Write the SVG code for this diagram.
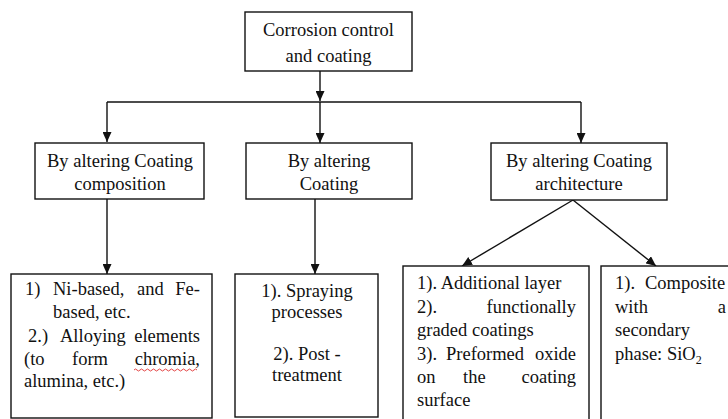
<svg xmlns="http://www.w3.org/2000/svg" width="728" height="419" viewBox="0 0 728 419">
<style>
.box{fill:#fff;stroke:#111;stroke-width:1.4}
.t{font-family:"Liberation Serif","Times New Roman",serif;font-size:18.5px;fill:#111}
.c{text-anchor:middle}
.e{text-anchor:end}
.ln{fill:none;stroke:#111;stroke-width:1.4}
</style>
<defs>
<marker id="ah" markerUnits="userSpaceOnUse" markerWidth="10" markerHeight="9" refX="10" refY="4.5" orient="auto">
<path d="M0,0 L10,4.5 L0,9 z" fill="#111"/>
</marker>
</defs>
<rect width="728" height="419" fill="#fff"/>
<g id="connectors">
<path class="ln" d="M320 71 V101" marker-end="url(#ah)"/>
<path class="ln" d="M107 102 H581"/>
<path class="ln" d="M107 102 V142" marker-end="url(#ah)"/>
<path class="ln" d="M320 102 V143" marker-end="url(#ah)"/>
<path class="ln" d="M581 102 V143" marker-end="url(#ah)"/>
<path class="ln" d="M107 199 V274" marker-end="url(#ah)"/>
<path class="ln" d="M315 199 V274" marker-end="url(#ah)"/>
<path class="ln" d="M573 200 L462 266" marker-end="url(#ah)"/>
<path class="ln" d="M573 200 L656 266" marker-end="url(#ah)"/>
</g>
<g id="root">
<rect class="box" x="245" y="12" width="167" height="59"/>
<text class="t c" x="328.5" y="36">Corrosion control</text>
<text class="t c" x="328.5" y="62">and coating</text>
</g>
<g id="composition">
<rect class="box" x="35" y="143" width="169" height="56"/>
<text class="t c" x="120" y="167">By altering Coating</text>
<text class="t c" x="120" y="190">composition</text>
</g>
<g id="coating">
<rect class="box" x="246" y="143" width="166" height="56"/>
<text class="t c" x="329" y="167">By altering</text>
<text class="t c" x="329" y="190">Coating</text>
</g>
<g id="architecture">
<rect class="box" x="491" y="143" width="176" height="57"/>
<text class="t c" x="579" y="167">By altering Coating</text>
<text class="t c" x="579" y="190">architecture</text>
</g>
<g id="comp-detail">
<rect class="box" x="11" y="274" width="201" height="144"/>
<text class="t" x="25" y="295">1)</text>
<text class="t" x="53" y="295">Ni-based,</text>
<text class="t" x="137" y="295">and</text>
<text class="t e" x="200" y="295">Fe-</text>
<text class="t" x="53" y="318">based, etc.</text>
<text class="t" x="28" y="342">2.)</text>
<text class="t" x="60" y="342">Alloying</text>
<text class="t e" x="200" y="342">elements</text>
<text class="t" x="24" y="365">(to</text>
<text class="t" x="72" y="365">form</text>
<text class="t e" x="200" y="365">chromia,</text>
<path d="M134 370 q1.5 -2 3 0 t3 0 t3 0 t3 0 t3 0 t3 0 t3 0 t3 0 t3 0 t3 0 t3 0 t3 0 t3 0 t3 0 t3 0 t3 0 t3 0 t3 0 t3 0 t3 0 t3 0" fill="none" stroke="#e03030" stroke-width="0.9"/>
<text class="t" x="24" y="387">alumina, etc.)</text>
</g>
<g id="coating-detail">
<rect class="box" x="235" y="274" width="143" height="143"/>
<text class="t c" x="307" y="297">1). Spraying</text>
<text class="t c" x="307" y="318">processes</text>
<text class="t c" x="307" y="360">2). Post -</text>
<text class="t c" x="307" y="381">treatment</text>
</g>
<g id="arch-detail-1">
<rect class="box" x="403" y="266" width="186" height="164"/>
<text class="t" x="417" y="289">1). Additional layer</text>
<text class="t" x="417" y="313">2).</text>
<text class="t e" x="576" y="313">functionally</text>
<text class="t" x="417" y="336">graded coatings</text>
<text class="t" x="417" y="360">3).</text>
<text class="t" x="446" y="360">Preformed</text>
<text class="t e" x="576" y="360">oxide</text>
<text class="t" x="417" y="383">on</text>
<text class="t" x="463" y="383">the</text>
<text class="t e" x="576" y="383">coating</text>
<text class="t" x="417" y="406">surface</text>
</g>
<g id="arch-detail-2">
<rect class="box" x="601" y="266" width="140" height="164"/>
<text class="t" x="615" y="289">1).</text>
<text class="t" x="645" y="289">Composite</text>
<text class="t" x="615" y="313">with</text>
<text class="t e" x="726" y="313">a</text>
<text class="t" x="615" y="336">secondary</text>
<text class="t" x="615" y="360">phase: SiO<tspan font-size="12" dy="4">2</tspan></text>
</g>
</svg>
